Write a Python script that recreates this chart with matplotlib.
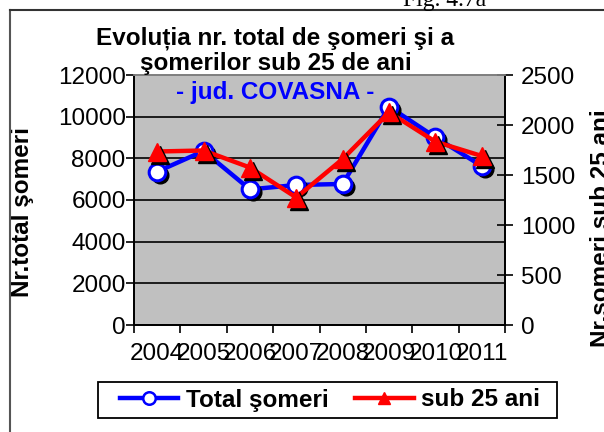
import matplotlib
matplotlib.use('Agg')
import matplotlib.pyplot as plt
import matplotlib.transforms as mtransforms
from matplotlib.lines import Line2D
from matplotlib.patches import Rectangle

years = ['2004', '2005', '2006', '2007', '2008', '2009', '2010', '2011']
total_someri = [7360, 8350, 6510, 6720, 6770, 10480, 9010, 7630]
sub_25_ani = [1735, 1745, 1575, 1275, 1660, 2127, 1833, 1690]

left_ticks = [0, 2000, 4000, 6000, 8000, 10000, 12000]
right_ticks = [0, 500, 1000, 1500, 2000, 2500]

plt.rcParams['font.family'] = ['Liberation Sans', 'DejaVu Sans']

W, H = 604, 432
fig = plt.figure(figsize=(W / 100, H / 100), dpi=100)


def fx(px):
    return px / W


def fy(py):
    return 1 - py / H


# outer frame (only top and left edges show)
fig.add_artist(Line2D([fx(10), fx(10)], [fy(10), 0], color='#555555', lw=1.5))
fig.add_artist(Line2D([fx(10), 1], [fy(10), fy(10)], color='#333333', lw=1.5))
fig.text(fx(445), fy(6), 'Fig. 4.7a', family='Liberation Serif', fontsize=17,
         ha='center', va='baseline')

ax = fig.add_axes([fx(134), fy(325), fx(505) - fx(134), fy(75) - fy(325)])
ax.set_facecolor('#C0C0C0')
ax2 = ax.twinx()

x = list(range(len(years)))

ax.set_xlim(-0.5, len(years) - 0.5)
ax.set_ylim(0, 12000)
ax2.set_ylim(0, 2500)
ax.set_yticks(left_ticks)
ax2.set_yticks(right_ticks)
ax.set_xticks([i - 0.5 for i in range(len(years) + 1)])
ax.set_xticklabels([])
ax.set_xticks(x, minor=True)
ax.set_xticklabels(years, minor=True)

ax.grid(axis='y', color='black', lw=1.2)
ax.set_axisbelow(True)

ax.tick_params(axis='y', direction='out', length=6, width=1.2, pad=0, labelsize=17.5)
ax.tick_params(axis='x', which='major', direction='out', length=6, width=1.2)
ax.tick_params(axis='x', which='minor', length=0, pad=13, labelsize=17.5)
ax2.tick_params(axis='y', direction='inout', length=11, width=1.2, pad=6, labelsize=17.5)

for a in (ax, ax2):
    for side in ('left', 'bottom', 'right'):
        a.spines[side].set_color('black')
        a.spines[side].set_linewidth(1.3)
    a.spines['top'].set_color('#808080')
    a.spines['top'].set_linewidth(1.3)

# blue series, markers with a black drop shadow
shadow1 = mtransforms.offset_copy(ax.transData, fig=fig, x=3, y=-3, units='dots')
ax.plot(x, total_someri, color='#0000FF', lw=3.2, zorder=2)
ax.plot(x, total_someri, ls='none', marker='o', ms=12, color='black',
        transform=shadow1, zorder=3)
ax.plot(x, total_someri, ls='none', marker='o', ms=12, mfc='white', mec='#0000FF',
        mew=2.2, zorder=4)

# red series
shadow2 = mtransforms.offset_copy(ax2.transData, fig=fig, x=3, y=-3, units='dots')
ax2.plot(x, sub_25_ani, color='#FF0000', lw=3.2, zorder=2)
ax2.plot(x, sub_25_ani, ls='none', marker='^', ms=13, color='black',
         transform=shadow2, zorder=3)
ax2.plot(x, sub_25_ani, ls='none', marker='^', ms=13, color='#FF0000', zorder=4)

ax.set_ylabel('Nr.total şomeri', fontsize=17.5, fontweight='bold')
ax.yaxis.set_label_coords(fx(34), fy(212), transform=fig.transFigure)
ax2.set_ylabel('Nr.şomeri sub 25 ani', fontsize=17.5, fontweight='bold', rotation=90)
ax2.yaxis.set_label_coords(fx(590), fy(228), transform=fig.transFigure)

fig.text(fx(275), fy(45), 'Evoluția nr. total de şomeri şi a', fontsize=17.5,
         fontweight='bold', ha='center', va='baseline')
fig.text(fx(276), fy(70), 'şomerilor sub 25 de ani', fontsize=17.5,
         fontweight='bold', ha='center', va='baseline')
fig.text(fx(275), fy(99), '- jud. COVASNA -', fontsize=17.5, fontweight='bold',
         color='#0000FF', ha='center', va='baseline')

handles = [
    Line2D([], [], color='#0000FF', lw=3.2, marker='o', ms=9, mfc='white',
           mec='#0000FF', mew=1.8),
    Line2D([], [], color='#FF0000', lw=3.2, marker='^', ms=9),
]
leg = fig.legend(handles, ['Total şomeri', 'sub 25 ani'], loc='center',
                 bbox_to_anchor=(fx(330), fy(400)), ncol=2,
                 prop={'size': 17.5, 'weight': 'bold'}, frameon=False,
                 handlelength=2.4, handletextpad=0.3, columnspacing=1.1,
                 borderpad=0.25, borderaxespad=0)
fig.add_artist(Rectangle((fx(98), fy(418)), fx(557) - fx(98), fy(382) - fy(418),
                         transform=fig.transFigure, fill=False,
                         edgecolor='black', lw=1.3))

fig.savefig('out.png', dpi=100)
